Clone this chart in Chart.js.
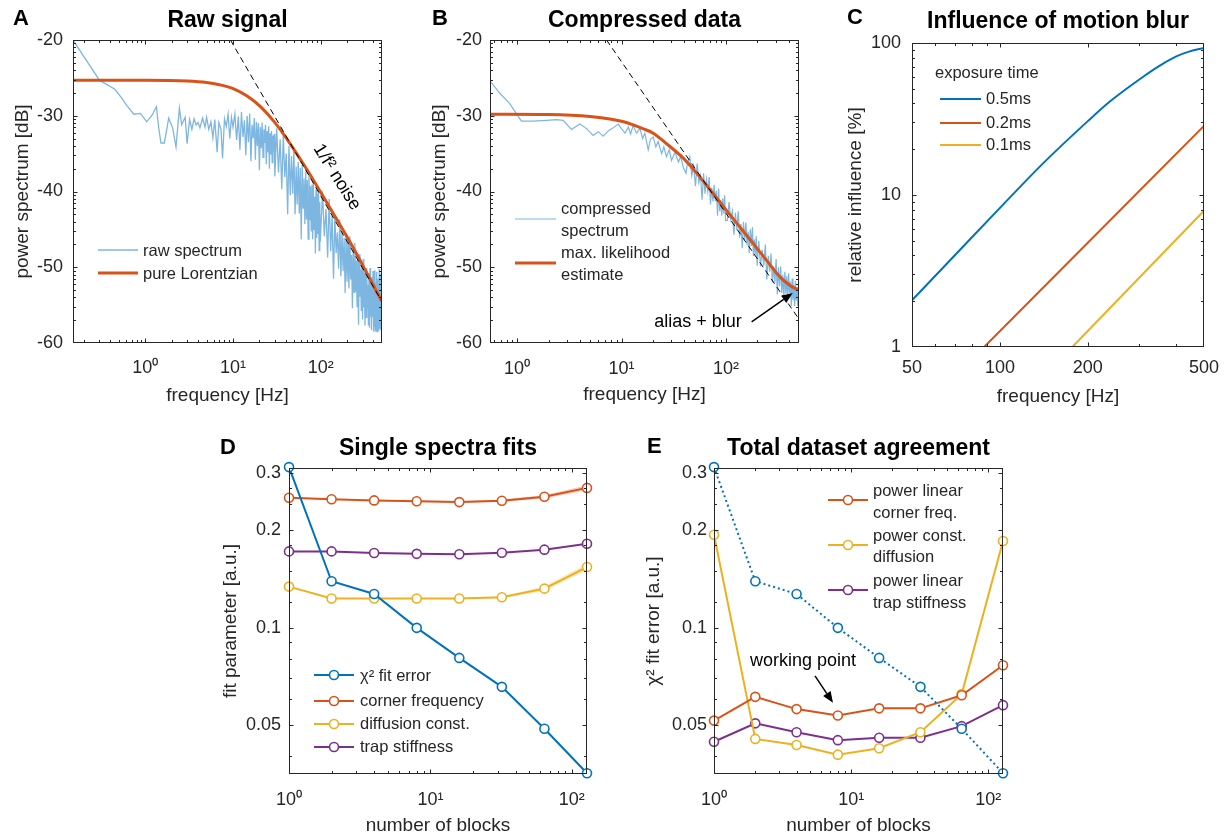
<!DOCTYPE html>
<html>
<head>
<meta charset="utf-8">
<script src="https://cdn.jsdelivr.net/npm/chart.js@4.4.1/dist/chart.umd.min.js"></script>
<style>
  html, body { margin: 0; padding: 0; background: #fff; }
  body { width: 1231px; height: 839px; position: relative; overflow: hidden; }
  canvas { position: absolute; }
</style>
</head>
<body>
<canvas id="panelA"></canvas>
<canvas id="panelB"></canvas>
<canvas id="panelC"></canvas>
<canvas id="panelD"></canvas>
<canvas id="panelE"></canvas>
<script>
// ---- data ----

// A: raw spectrum [Hz, dB]
const rawSpectrumA = [
  [0.15,-20.0],[0.30,-25.3],[0.45,-26.5],[0.55,-27.8],[0.62,-28.7],[0.74,-29.8],[0.88,-29.7],[1.04,-30.8],
  [1.20,-29.9],[1.34,-28.8],[1.42,-31.5],[1.51,-33.6],[1.65,-33.6],[1.85,-30.3],[2.05,-31.6],[2.24,-34.1],
  [2.45,-29.0],[2.60,-31.2],[2.70,-30.8],[2.85,-30.2],[3.00,-33.7],[3.20,-30.5],[3.40,-31.8],[3.60,-30.4],
  [3.80,-31.2],[4.00,-30.9],[4.20,-31.6],[4.50,-30.3],[4.80,-31.5],[5.00,-30.2],[5.30,-31.8],[5.60,-30.8],
  [5.90,-32.9],[6.20,-30.5],[6.60,-34.8],[6.90,-30.9],[7.30,-31.8],[7.60,-35.6],[8.00,-30.4],[8.40,-31.4],
  [8.80,-29.8],[9.20,-33.0],[9.60,-30.2],[10.0,-31.5],
  [10.5,-29.8],[11,-33.2],[11.5,-30.1],[12,-34.5],[12.5,-29.5],[13,-32.8],[13.5,-30.6],[14,-35.2],
  [14.5,-30.0],[15,-33.5],[15.5,-29.7],[16,-36.0],[16.5,-31.2],[17,-33.0],[17.5,-30.3],[18,-35.8],
  [18.5,-30.8],[19,-34.0],[19.5,-31.0],[20,-37.2],[20.5,-31.5],[21,-34.3],[21.5,-30.9],[22,-35.5],
  [22.5,-31.8],[23,-33.6],[23.5,-31.2],[24,-36.4],[24.5,-32.0],[25,-34.8],[25.5,-31.4],[26,-37.0],
  [26.5,-32.3],[27,-35.1],[27.5,-32.0],[28,-36.2],[28.5,-32.6],[29,-34.7],[29.5,-32.4],[30,-38.0],
  [31.5,-31.7],[33,-37.5],[34.5,-33.1],[36,-39.7],[37.5,-32.6],[39,-38.1],[40.5,-35.0],[42,-43.0],
  [43.5,-34.0],[45,-40.5],[46.5,-35.3],[48,-40.3],[49.5,-34.6],[51,-43.0],[52.5,-36.7],[54,-41.7],
  [55.5,-36.1],[57,-42.9],[58.5,-36.9],[60,-46.3],[61.5,-36.5],[63,-42.2],[64.5,-38.3],[66,-44.3],
  [67.5,-37.4],[69,-43.7],[70.5,-38.5],[72,-46.3],[73.5,-37.6],[75,-43.8],[76.5,-39.3],[78,-45.2],
  [79.5,-39.1],[81,-46.3],[82.5,-38.7],[84,-45.0],[85.5,-40.7],[87,-48.2],[88.5,-39.7],[90,-46.1],
  [91.5,-40.3],[93,-45.6],[94.5,-39.5],[96,-47.8],[97.5,-41.4],[99,-46.6],
  [105,-40.0],[110,-45.9],[115,-42.3],[120,-48.7],[125,-41.0],[130,-47.9],[135,-43.2],[140,-51.5],
  [145,-43.3],[150,-48.1],[155,-45.4],[160,-50.2],[165,-43.7],[170,-51.2],[175,-45.3],[180,-50.5],
  [185,-46.1],[190,-53.4],[195,-45.5],[200,-51.9],[205,-46.4],[210,-52.8],[215,-45.9],[220,-51.6],
  [225,-48.4],[230,-55.4],[235,-47.3],[240,-53.3],[245,-46.8],[250,-53.2],[255,-49.1],[260,-55.2],
  [265,-49.0],[270,-57.6],[275,-48.3],[280,-53.9],[285,-50.3],[290,-55.7],[295,-49.4],[300,-56.9],
  [305,-48.9],[310,-55.3],[315,-50.7],[320,-57.7],[325,-50.5],[330,-56.6],[335,-50.1],[340,-55.3],
  [345,-52.3],[350,-57.6],[355,-50.8],[360,-58.0],[365,-50.1],[370,-56.5],[375,-51.9],[380,-58.3],
  [385,-51.3],[390,-56.6],[395,-50.5],[400,-58.5],[405,-51.2],[410,-57.8],[415,-50.4],[420,-58.4],
  [425,-52.0],[430,-57.1],[435,-50.6],[440,-58.5],[445,-51.5],[450,-58.3],[455,-52.3],[460,-58.4],
  [465,-50.2],[470,-58.1],[475,-50.9],[480,-58.2],[485,-52.6],[490,-58.3],[495,-50.8],[500,-57.9]
];
const lorentzianA = [
  [0.15,-25.3],[1,-25.31],[3,-25.41],[5,-25.6],[7,-25.9],[10.2,-26.45],[14.5,-27.4],[20.6,-28.8],
  [29.3,-30.75],[45.5,-33.8],[70.2,-37.17],[100,-40.1],[150,-43.54],[220,-46.83],[320,-50.3],
  [420,-52.9],[500,-54.5]
];
const asymptoteA = [[9.36,-20],[500,-54.55]];

// B: compressed spectrum [Hz, dB]
const compressedB = [
  [0.55,-25.4],[0.68,-27.0],[0.85,-28.4],[1.10,-30.7],[1.42,-30.7],[1.91,-30.6],[2.38,-30.5],[2.76,-30.6],
  [3.31,-31.8],[3.99,-31.1],[4.62,-31.7],[5.35,-32.6],[5.98,-32.1],[6.67,-32.7],[7.45,-32.0],[8.30,-31.6],
  [9.3,-31.1],[10.0,-31.7],[10.8,-32.3],[11.6,-31.5],[12.2,-32.4],[12.9,-31.3],[13.9,-32.3],[15.0,-31.7],
  [15.9,-33.0],[16.7,-32.3],[18.0,-34.5],[18.9,-33.1],[20.1,-32.8],[21.3,-34.1],[22.4,-33.4],[24.2,-35.0],
  [25.4,-34.1],[26.9,-35.4],[28.6,-34.5],[30.1,-35.9],[32.5,-34.8],[35.0,-36.1],[36.8,-35.4],[39.0,-36.8],
  [41.4,-37.6],[42.7,-36.3],
  [45,-35.4],[47,-37.9],[49,-36.6],[51,-39.3],[53,-36.3],[55,-38.8],[57,-37.9],[59,-41.1],
  [61,-37.6],[63,-40.3],[65,-38.4],[67,-40.0],[69,-38.1],[71,-41.7],[73,-39.5],[75,-41.3],
  [77,-39.1],[79,-41.3],[81,-39.9],[83,-43.2],[85,-39.6],[87,-42.6],[89,-41.1],[91,-43.2],
  [93,-40.9],[95,-42.9],[97,-40.5],[99,-43.8],
  [103,-43.8],[107,-41.4],[111,-43.7],[115,-42.6],[119,-45.7],[123,-42.8],[127,-45.0],[131,-42.6],
  [135,-46.1],[139,-44.3],[143,-47.5],[147,-44.0],[151,-46.4],[155,-44.1],[159,-47.1],[163,-45.3],
  [167,-48.1],[171,-45.0],[175,-47.2],[179,-44.7],[183,-48.5],[187,-46.3],[191,-48.3],[195,-45.9],
  [199,-49.8],
  [206,-46.5],[214,-49.9],[222,-47.7],[230,-49.8],[238,-47.0],[246,-51.6],[254,-48.5],[262,-50.6],
  [270,-48.2],[278,-52.0],[286,-49.9],[294,-52.0],[302,-48.9],[310,-53.6],[318,-50.0],[326,-52.5],
  [334,-49.9],[342,-53.4],[350,-51.0],[358,-54.0],[366,-50.6],[374,-53.5],[382,-51.2],[390,-54.2],
  [398,-50.8],[406,-53.4],[414,-51.9],[422,-55.1],[430,-51.5],[438,-54.3],[446,-52.3],[454,-55.1],
  [462,-51.8],[470,-54.3],[478,-52.6],[486,-55.1],[494,-52.3],[500,-54.0]
];
const likelihoodB = [
  [0.55,-29.8],[2,-29.85],[5,-30.1],[8,-30.45],[10.5,-30.8],[12.9,-31.2],[16,-31.7],[20.1,-32.3],
  [27,-33.7],[39,-35.6],[56.3,-38.1],[75.6,-40.3],[101,-42.5],[136,-44.7],[183,-46.9],[245,-49.1],
  [330,-51.3],[411,-52.4],[460,-52.8],[500,-53.0]
];
const asymptoteB = [[7.18,-20],[500,-56.86]];

// C: relative influence [Hz, %]
const blur05ms = [[50,2.03],[70.5,4.06],[99.3,8.1],[140.8,16.2],[199.6,30.5],[238,41.2],[309.5,60.0],[353,71.0],[402,81.6],[446.6,88.1],[500,92.7]];
const blur02ms = [[88.3,1],[200,4.85],[500,28.5]];
const blur01ms = [[177,1],[500,7.88]];

// D / E: number of blocks and fit results
const blocks = [1, 2, 4, 8, 16, 32, 64, 128];
const chiSquared = [0.313, 0.139, 0.127, 0.0998, 0.0806, 0.0656, 0.0487, 0.0355];
const cornerFreq = [0.2517, 0.249, 0.247, 0.2455, 0.244, 0.2465, 0.2534, 0.270];
const cornerLow  = [0.2505, 0.2480, 0.2460, 0.2445, 0.2425, 0.2445, 0.2505, 0.2650];
const cornerHigh = [0.2530, 0.2500, 0.2480, 0.2467, 0.2455, 0.2485, 0.2565, 0.2750];
const diffConst = [0.1338, 0.1229, 0.1229, 0.1229, 0.1229, 0.1240, 0.1319, 0.1538];
const diffLow   = [0.1335, 0.1226, 0.1226, 0.1226, 0.1224, 0.1232, 0.1298, 0.1505];
const diffHigh  = [0.1341, 0.1232, 0.1232, 0.1232, 0.1234, 0.1250, 0.1342, 0.1572];
const trapStiff = [0.1719, 0.1719, 0.170, 0.1689, 0.1685, 0.1703, 0.174, 0.1815];
const totalCorner = [0.0516, 0.0611, 0.0560, 0.0535, 0.0563, 0.0563, 0.0618, 0.0765];
const totalDiff   = [0.1935, 0.0453, 0.0434, 0.0405, 0.0424, 0.0475, 0.0623, 0.185];
const totalTrap   = [0.0444, 0.0506, 0.0475, 0.0449, 0.0457, 0.0457, 0.0496, 0.0576];

// tick labels
const decadeTicks = [1, 10, 100];
const decadeLabels = ['10\u2070', '10\u00b9', '10\u00b2'];
const dbTicks = [-20, -30, -40, -50, -60];
const dbLabels = ['-20', '-30', '-40', '-50', '-60'];
const blurFreqTicks = [50, 100, 200, 500];
const blurFreqLabels = ['50', '100', '200', '500'];
const percentTicks = [1, 10, 100];
const percentLabels = ['1', '10', '100'];
const fitTicks = [0.05, 0.1, 0.2, 0.3];
const fitLabels = ['0.05', '0.1', '0.2', '0.3'];

// ---- styling ----
const FONT = '"Liberation Sans", Arial, Helvetica, sans-serif';
const TEXT = '#262626';
const BLUE = '#0072BD', ORANGE = '#D95319', YELLOW = '#EDB120', PURPLE = '#7E2F8E';
const LIGHTBLUE = '#7db6e0';

Chart.defaults.font.family = FONT;
Chart.defaults.color = TEXT;

function logMinor(lo, hi) {
  const out = [];
  for (let e = Math.floor(Math.log10(lo)) - 1; e <= Math.ceil(Math.log10(hi)); e++) {
    for (let m = 2; m <= 9; m++) {
      const v = m * Math.pow(10, e);
      if (v > lo && v < hi) out.push(v);
    }
  }
  return out;
}
const dbMinor = [-60, -50, -40, -30].flatMap(b => [2, 3, 4, 5, 6, 7, 8, 9].map(m => b + 10 * Math.log10(m)));

const pts = arr => arr.map(([x, y]) => ({ x, y }));
const zip = (xs, ys) => xs.map((x, i) => ({ x, y: ys[i] }));

const curve = (data, color, width, extra) => Object.assign({
  data, borderColor: color, backgroundColor: color, borderWidth: width, pointRadius: 0, fill: false
}, extra || {});
const marked = (data, color, extra) => Object.assign({
  data, borderColor: color, backgroundColor: color, borderWidth: 2, pointRadius: 4.5, pointBorderWidth: 1.6,
  pointBackgroundColor: '#fff', pointBorderColor: color, fill: false, clip: false
}, extra || {});

function drawArrow(ctx, x1, y1, x2, y2) {
  const ang = Math.atan2(y2 - y1, x2 - x1), hl = 11, hw = 4.5;
  const bx = x2 - hl * Math.cos(ang), by = y2 - hl * Math.sin(ang);
  ctx.beginPath(); ctx.moveTo(x1, y1); ctx.lineTo(bx, by); ctx.stroke();
  ctx.beginPath(); ctx.moveTo(x2, y2);
  ctx.lineTo(bx + hw * Math.sin(ang), by - hw * Math.cos(ang));
  ctx.lineTo(bx - hw * Math.sin(ang), by + hw * Math.cos(ang));
  ctx.closePath(); ctx.fill();
}

// box, inward ticks, panel letters, titles, legends, annotations
const decoPlugin = {
  id: 'deco',
  afterDatasetsDraw(chart, args, o) {
    const { ctx, chartArea: a } = chart;
    const sx = chart.scales.x, sy = chart.scales.y;
    const ox = o.ox, oy = o.oy;
    ctx.save();
    ctx.setLineDash([]);
    ctx.strokeStyle = TEXT; ctx.lineWidth = 1;
    const L = Math.round(a.left) + 0.5, R = Math.round(a.right) - 0.5;
    const T = Math.round(a.top) + 0.5, B = Math.round(a.bottom) - 0.5;
    ctx.beginPath();
    const xt = (vals, len) => vals.forEach(v => {
      const p = Math.round(sx.getPixelForValue(v)) + 0.5;
      if (p < L - 0.5 || p > R + 0.5) return;
      ctx.moveTo(p, B); ctx.lineTo(p, B - len); ctx.moveTo(p, T); ctx.lineTo(p, T + len);
    });
    const yt = (vals, len) => vals.forEach(v => {
      const p = Math.round(sy.getPixelForValue(v)) + 0.5;
      if (p < T - 0.5 || p > B + 0.5) return;
      ctx.moveTo(L, p); ctx.lineTo(L + len, p); ctx.moveTo(R, p); ctx.lineTo(R - len, p);
    });
    xt(o.ticks.xMajor, 4); xt(o.ticks.xMinor, 2.5); yt(o.ticks.yMajor, 4); yt(o.ticks.yMinor, 2.5);
    ctx.stroke();
    ctx.strokeRect(L, T, R - L, B - T);

    ctx.fillStyle = '#000';
    ctx.textBaseline = 'middle';
    ctx.font = 'bold 22px ' + FONT; ctx.textAlign = 'left';
    ctx.fillText(o.letter.t, o.letter.x - ox, o.letter.y - oy);
    ctx.font = 'bold 23px ' + FONT; ctx.textAlign = 'center';
    ctx.fillText(o.title.t, (a.left + a.right) / 2, o.title.y - oy);

    const lg = o.legend;
    ctx.font = '16.5px ' + FONT; ctx.textAlign = 'left'; ctx.fillStyle = TEXT;
    if (lg.heading) ctx.fillText(lg.heading.t, lg.heading.x - ox, lg.heading.y - oy);
    lg.items.forEach(it => {
      const ds = chart.data.datasets[it.ds];
      const y = it.y - oy;
      ctx.strokeStyle = ds.borderColor; ctx.lineWidth = ds.borderWidth;
      ctx.setLineDash(ds.borderDash || []);
      ctx.beginPath(); ctx.moveTo(lg.x0 - ox, y); ctx.lineTo(lg.x1 - ox, y); ctx.stroke();
      ctx.setLineDash([]);
      if (ds.pointRadius > 0) {
        ctx.beginPath(); ctx.arc((lg.x0 + lg.x1) / 2 - ox, y, ds.pointRadius, 0, Math.PI * 2);
        ctx.fillStyle = '#fff'; ctx.fill(); ctx.lineWidth = ds.pointBorderWidth; ctx.stroke();
      }
      ctx.fillStyle = TEXT;
      it.lines.forEach((s, k) => ctx.fillText(s, lg.tx - ox, it.ty[k] - oy));
    });

    ctx.fillStyle = '#000'; ctx.strokeStyle = '#000'; ctx.lineWidth = 1.5;
    (o.notes || []).forEach(n => {
      const px = sx.getPixelForValue(n.at[0]), py = sy.getPixelForValue(n.at[1]);
      ctx.save();
      ctx.translate(px, py); ctx.rotate((n.angle || 0) * Math.PI / 180);
      ctx.font = '18px ' + FONT; ctx.textAlign = 'center';
      ctx.fillText(n.t, 0, 0);
      ctx.restore();
    });
    (o.arrows || []).forEach(ar => {
      drawArrow(ctx, sx.getPixelForValue(ar.from[0]), sy.getPixelForValue(ar.from[1]),
        sx.getPixelForValue(ar.to[0]), sy.getPixelForValue(ar.to[1]));
    });
    ctx.restore();
  }
};
Chart.register(decoPlugin);

function axis(s, isX, size) {
  return {
    type: s.type, min: s.min, max: s.max, position: isX ? 'bottom' : 'left',
    grid: { display: false, drawTicks: false },
    border: { display: false },
    ticks: { autoSkip: false, maxRotation: 0, minRotation: 0, padding: s.pad, color: TEXT,
      font: { size: 18 }, callback: (v, i) => s.labels[i] },
    afterBuildTicks: sc => { sc.ticks = s.major.map(v => ({ value: v })); },
    afterFit: sc => { if (isX) sc.height = size; else sc.width = size; },
    title: { display: true, text: s.title, color: TEXT, font: { size: 19 },
      padding: isX ? { top: 0, bottom: s.tpad } : { top: s.tpad, bottom: 0 } }
  };
}

function panel(id, p, datasets, sx, sy, deco) {
  const cv = document.getElementById(id);
  cv.width = p.w; cv.height = p.h;
  cv.style.left = p.cx + 'px'; cv.style.top = p.cy + 'px';
  const [l, t, r, b] = p.plot;
  deco.ox = p.cx; deco.oy = p.cy;
  deco.ticks = { xMajor: sx.major, xMinor: sx.minor, yMajor: sy.major, yMinor: sy.minor };
  return new Chart(cv, {
    type: 'line',
    data: { datasets },
    options: {
      responsive: false, animation: false, events: [],
      layout: { padding: { left: 0, top: t - p.cy, right: p.cx + p.w - r, bottom: 0 } },
      plugins: { legend: { display: false }, tooltip: { enabled: false }, deco },
      scales: { x: axis(sx, true, p.cy + p.h - b), y: axis(sy, false, l - p.cx) }
    }
  });
}

// ---- A ----
panel('panelA', { cx: 0, cy: 0, w: 410, h: 420, plot: [73, 40, 382, 343] }, [
  curve(pts(rawSpectrumA), LIGHTBLUE, 1.3, { order: 3 }),
  curve(pts(lorentzianA), ORANGE, 3, { order: 2, cubicInterpolationMode: 'monotone' }),
  curve(pts(asymptoteA), '#000', 1, { order: 1, borderDash: [6, 4] })
], { type: 'logarithmic', min: 0.15, max: 500, major: decadeTicks, labels: decadeLabels, minor: logMinor(0.15, 500), pad: 14, title: 'frequency [Hz]', tpad: 12.6 },
   { type: 'linear', min: -60, max: -20, major: dbTicks, labels: dbLabels, minor: dbMinor, pad: 10, title: 'power spectrum [dB]', tpad: 11.6 },
{
  letter: { t: 'A', x: 13, y: 19 }, title: { t: 'Raw signal', y: 21 },
  legend: { x0: 98, x1: 138, tx: 143, items: [
    { ds: 0, y: 250, lines: ['raw spectrum'], ty: [251] },
    { ds: 1, y: 273, lines: ['pure Lorentzian'], ty: [274] }
  ] },
  notes: [{ t: '1/f\u00b2 noise', at: [153, -38.1], angle: 58 }]
});

// ---- B ----
panel('panelB', { cx: 410, cy: 0, w: 410, h: 420, plot: [490, 40, 799, 343] }, [
  curve(pts(compressedB), LIGHTBLUE, 1.2, { order: 3 }),
  curve(pts(likelihoodB), ORANGE, 3, { order: 2, cubicInterpolationMode: 'monotone' }),
  curve(pts(asymptoteB), '#000', 1, { order: 1, borderDash: [6, 4] })
], { type: 'logarithmic', min: 0.55, max: 500, major: decadeTicks, labels: decadeLabels, minor: logMinor(0.55, 500), pad: 15, title: 'frequency [Hz]', tpad: 13.6 },
   { type: 'linear', min: -60, max: -20, major: dbTicks, labels: dbLabels, minor: dbMinor, pad: 8, title: 'power spectrum [dB]', tpad: 18.6 },
{
  letter: { t: 'B', x: 432, y: 19 }, title: { t: 'Compressed data', y: 21 },
  legend: { x0: 515, x1: 556, tx: 561, items: [
    { ds: 0, y: 219, lines: ['compressed', 'spectrum'], ty: [209, 231] },
    { ds: 1, y: 263, lines: ['max. likelihood', 'estimate'], ty: [253, 275] }
  ] },
  notes: [{ t: 'alias + blur', at: [54, -57.2] }],
  arrows: [{ from: [176, -57.2], to: [435, -53.4] }]
});

// ---- C ----
panel('panelC', { cx: 820, cy: 0, w: 411, h: 420, plot: [912, 43, 1204, 347] }, [
  curve(pts(blur05ms), BLUE, 2, { cubicInterpolationMode: 'monotone' }),
  curve(pts(blur02ms), ORANGE, 2),
  curve(pts(blur01ms), YELLOW, 2)
], { type: 'logarithmic', min: 50, max: 500, major: blurFreqTicks, labels: blurFreqLabels, minor: [60, 70, 80, 90, 300, 400], pad: 10, title: 'frequency [Hz]', tpad: 11.6 },
   { type: 'logarithmic', min: 1, max: 100, major: percentTicks, labels: percentLabels, minor: logMinor(1, 100), pad: 11, title: 'relative influence [%]', tpad: 24.6 },
{
  letter: { t: 'C', x: 847, y: 18 }, title: { t: 'Influence of motion blur', y: 22 },
  legend: { heading: { t: 'exposure time', x: 935, y: 73 }, x0: 940, x1: 981, tx: 986, items: [
    { ds: 0, y: 99, lines: ['0.5ms'], ty: [99] },
    { ds: 1, y: 123, lines: ['0.2ms'], ty: [123] },
    { ds: 2, y: 145, lines: ['0.1ms'], ty: [145] }
  ] }
});

// ---- D ----
const fitMinor = [0.04, 0.06, 0.07, 0.08, 0.09, 0.12, 0.15, 0.18, 0.24, 0.27];
panel('panelD', { cx: 205, cy: 420, w: 410, h: 419, plot: [289, 468, 587, 774] }, [
  marked(zip(blocks, chiSquared), BLUE),
  marked(zip(blocks, cornerFreq), ORANGE),
  marked(zip(blocks, diffConst), YELLOW),
  marked(zip(blocks, trapStiff), PURPLE),
  curve(zip(blocks, cornerLow), 'rgba(217,83,25,0)', 0, { order: 10 }),
  curve(zip(blocks, cornerHigh), 'rgba(217,83,25,0)', 0, { order: 10, fill: '-1', backgroundColor: 'rgba(217,83,25,0.28)' }),
  curve(zip(blocks, diffLow), 'rgba(237,177,32,0)', 0, { order: 10 }),
  curve(zip(blocks, diffHigh), 'rgba(237,177,32,0)', 0, { order: 10, fill: '-1', backgroundColor: 'rgba(237,177,32,0.3)' })
], { type: 'logarithmic', min: 1, max: 128, major: decadeTicks, labels: decadeLabels, minor: logMinor(1, 128), pad: 15, title: 'number of blocks', tpad: 1.6 },
   { type: 'logarithmic', min: 0.0353, max: 0.311, major: fitTicks, labels: fitLabels, minor: fitMinor, pad: 8, title: 'fit parameter [a.u.]', tpad: 14.6 },
{
  letter: { t: 'D', x: 220, y: 448 }, title: { t: 'Single spectra fits', y: 449 },
  legend: { x0: 314, x1: 354, tx: 360, items: [
    { ds: 0, y: 675, lines: ['\u03c7\u00b2 fit error'], ty: [676] },
    { ds: 1, y: 701, lines: ['corner frequency'], ty: [701] },
    { ds: 2, y: 724, lines: ['diffusion const.'], ty: [724] },
    { ds: 3, y: 747, lines: ['trap stiffness'], ty: [747] }
  ] }
});

// ---- E ----
panel('panelE', { cx: 630, cy: 420, w: 410, h: 419, plot: [714, 468, 1003, 774] }, [
  marked(zip(blocks, chiSquared), BLUE, { borderDash: [2, 3] }),
  marked(zip(blocks, totalCorner), ORANGE),
  marked(zip(blocks, totalDiff), YELLOW),
  marked(zip(blocks, totalTrap), PURPLE)
], { type: 'logarithmic', min: 1, max: 128, major: decadeTicks, labels: decadeLabels, minor: logMinor(1, 128), pad: 15, title: 'number of blocks', tpad: 1.6 },
   { type: 'logarithmic', min: 0.0353, max: 0.311, major: fitTicks, labels: fitLabels, minor: fitMinor, pad: 7, title: '\u03c7\u00b2 fit error [a.u.]', tpad: 12.6 },
{
  letter: { t: 'E', x: 647, y: 447 }, title: { t: 'Total dataset agreement', y: 449 },
  legend: { x0: 828, x1: 868, tx: 873, items: [
    { ds: 1, y: 500, lines: ['power linear', 'corner freq.'], ty: [491, 513] },
    { ds: 2, y: 545, lines: ['power const.', 'diffusion'], ty: [536, 557] },
    { ds: 3, y: 590, lines: ['power linear', 'trap stiffness'], ty: [581, 603] }
  ] },
  notes: [{ t: 'working point', at: [4.46, 0.0788] }],
  arrows: [{ from: [5.45, 0.0709], to: [7.37, 0.0586] }]
});
</script>
</body>
</html>
